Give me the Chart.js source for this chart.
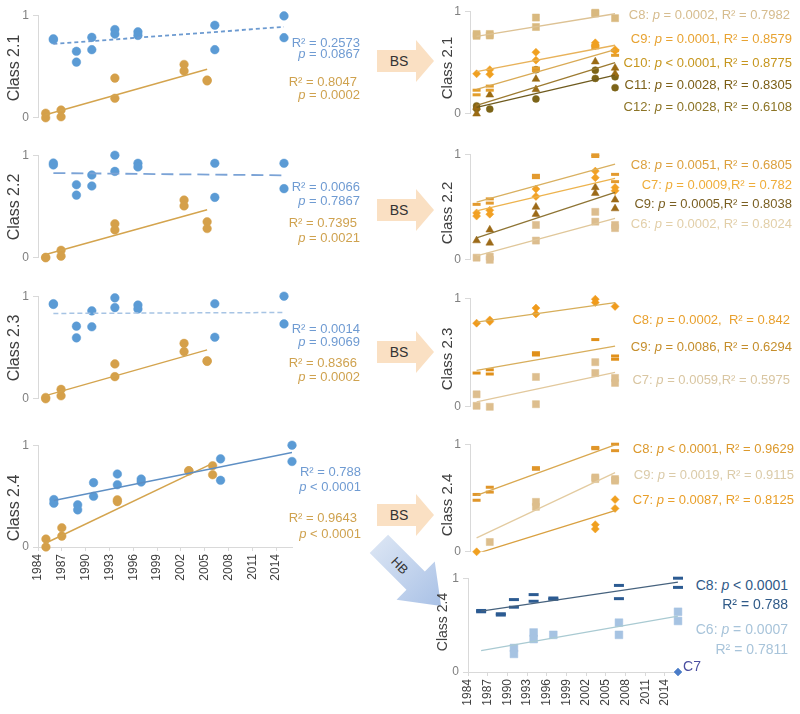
<!DOCTYPE html>
<html><head><meta charset="utf-8">
<script src="https://cdn.jsdelivr.net/npm/chart.js@4.4.1/dist/chart.umd.min.js"></script>
<style>
html,body{margin:0;padding:0;background:#fff;}
body{width:800px;height:714px;position:relative;overflow:hidden;font-family:"Liberation Sans",Arial,sans-serif;}
canvas{position:absolute;}
.t{position:absolute;white-space:nowrap;}
.yt{position:absolute;white-space:nowrap;color:#404040;transform:translate(-50%,-50%) rotate(-90deg);}
svg{position:absolute;left:0;top:0;}
</style></head><body>
<svg width="800" height="714">
 <defs><linearGradient id="hbg" x1="0" y1="0" x2="1" y2="0"><stop offset="0" stop-color="#D8E3F3"/><stop offset="1" stop-color="#A9C1E6"/></linearGradient></defs>
 <g transform="translate(0,61)"><path d="M377,-11 H416 V-21 L434,0 L416,21 V11 H377 Z" fill="#FAE0C3"/><text x="399" y="5" font-size="14" text-anchor="middle" fill="#333" font-family="Liberation Sans, Arial">BS</text></g>
 <g transform="translate(0,210)"><path d="M377,-11 H416 V-21 L434,0 L416,21 V11 H377 Z" fill="#FAE0C3"/><text x="399" y="5" font-size="14" text-anchor="middle" fill="#333" font-family="Liberation Sans, Arial">BS</text></g>
 <g transform="translate(0,352)"><path d="M377,-11 H416 V-21 L434,0 L416,21 V11 H377 Z" fill="#FAE0C3"/><text x="399" y="5" font-size="14" text-anchor="middle" fill="#333" font-family="Liberation Sans, Arial">BS</text></g>
 <g transform="translate(0,515)"><path d="M377,-11 H416 V-21 L434,0 L416,21 V11 H377 Z" fill="#FAE0C3"/><text x="399" y="5" font-size="14" text-anchor="middle" fill="#333" font-family="Liberation Sans, Arial">BS</text></g>
 <g transform="translate(410,575) rotate(45)"><path d="M-44,-13 H8 V-27 L44,0 L8,27 V13 H-44 Z" fill="url(#hbg)"/><text x="-14" y="5" font-size="13" text-anchor="middle" fill="#333" font-family="Liberation Sans, Arial">HB</text></g>
</svg>
<script>
// ---------- DATA ----------
const yearTicks = [1984,1987,1990,1993,1996,1999,2002,2005,2008,2011,2014];
const blueYears = [1986,1986,1989,1989,1991,1991,1994,1994,1997,1997,2007,2007,2016,2016];
const goldYears = [1985,1985,1987,1987,1994,1994,2003,2003,2006,2006];
const blueTrendYears = [1986,2016];
const goldTrendYears = [1985,2006];

const c21Blue = [0.77,0.76, 0.648,0.543, 0.784,0.664, 0.86,0.816, 0.838,0.803, 0.902,0.664, 0.993,0.781];
const c21Gold = [0.045,0, 0.076,0.01, 0.387,0.19, 0.52,0.457, 0.368,0.36];
const c21BlueTrend = [0.72,0.886];
const c21GoldTrend = [0.03,0.473];

const c22Blue = [0.924,0.905, 0.712,0.611, 0.807,0.70, 1.0,0.842, 0.921,0.886, 0.921,0.589, 0.921,0.674];
const c22Gold = [0.005,0, 0.073,0.016, 0.332,0.272, 0.563,0.506, 0.351,0.285];
const c22BlueTrend = [0.826,0.804];
const c22GoldTrend = [0.032,0.468];

const c23Blue = [0.927,0.92, 0.708,0.594, 0.857,0.702, 0.984,0.889, 0.914,0.876, 0.927,0.6, 1.0,0.73];
const c23Gold = [0.013,0, 0.092,0.029, 0.34,0.216, 0.54,0.46, 0.371,0.365];
const c23BlueTrend = [0.832,0.841];
const c23GoldTrend = [0.032,0.476];

const c24Blue = [0.466,0.43, 0.414,0.365, 0.632,0.498, 0.717,0.612, 0.668,0.638, 0.866,0.655, 1.0,0.84];
const c24Gold = [0.078,0, 0.189,0.107, 0.463,0.446, 0.749,0.749, 0.798,0.71];
const c24BlueTrend = [0.456,0.928];
const c24GoldTrend = [0.039,0.821];

// BS classes (right panels)
const bsYears = [1985,1985,1987,1987,1994,1994,2003,2003,2006,2006];
const bsTrendYears = [1985,2006];
const r21C8  = [0.778,0.76, 0.778,0.763, 0.938,0.846, 0.985,0.978, 0.932,null];
const r21C9  = [0.39,null, 0.43,0.385, 0.6,0.523, 0.692,0.662, 0.625,0.615];
const r21C10 = [0.23,0.185, 0.27,0.23, 0.446,0.42, 0.668,0.643, 0.615,0.57];
const r21C11 = [0.062,0, 0.185,null, 0.338,0.237, 0.508,null, 0.446,0.39];
const r21C12 = [0.077,0.052, 0.046,null, 0.43,0.145, 0.425,0.345, 0.36,0.255];
const r21C8T = [0.754,0.975], r21C9T = [0.41,0.668], r21C10T = [0.237,0.625], r21C11T = [0.083,0.498], r21C12T = [0.062,0.378];

const r22C8 = [0.525,null, 0.577,0.537, 0.8,0.778, 0.994,0.978, 0.809,0.74];
const r22C7 = [0.444,0.414, 0.469,0.432, 0.67,0.6, 0.84,0.778, 0.685,0.654];
const r22C9 = [0.182,null, 0.284,0.16, 0.5,0.432, 0.685,0.63, 0.568,0.485];
const r22C6 = [0.02,null, 0.03,0, 0.33,0.182, 0.454,0.361, 0.33,0.3];
const r22C8T = [0.546,0.907], r22C7T = [0.463,0.772], r22C9T = [0.207,0.639], r22C6T = [0.037,0.392];

const r23C8 = [0.77,null, 0.8,0.785, 0.909,0.855, 0.991,0.96, 0.924,null];
const r23C9 = [0.311,null, 0.341,0.302, 0.498,0.477, 0.619,null, 0.468,0.438];
const r23C7 = [0.115,0.009, 0,null, 0.275,0.024, 0.411,0.311, 0.266,0.22];
const r23C8T = [0.779,0.96], r23C9T = [0.335,0.559], r23C7T = [0.045,0.317];

const r24C8 = [0.533,0.479, 0.6,0.555, 0.782,0.767, 0.97,0.958, 1.0,0.94];
const r24C9 = [null,null, 0.091,null, 0.464,0.418, 0.691,0.676, 0.676,0.661];
const r24C7 = [0,null, null,null, null,null, 0.252,0.212, 0.485,0.403];
const r24C8T = [0.524,0.994], r24C9T = [0.13,0.736], r24C7T = [-0.017,0.382];

// HB class 2.4
const hbYears = [1986,1986,1989,1989,1991,1991,1994,1994,1997,1997,2007,2007,2016,2016];
const hbTrendYears = [1986,2016];
const hbC8 = [0.656,0.642, 0.621,0.607, 0.772,0.691, 0.825,0.754, 0.789,0.775, 0.923,0.782, 1.0,0.902];
const hbC6 = [null,null, null,null, 0.256,0.193, 0.421,0.351, 0.396,null, 0.526,0.396, 0.642,0.544];
const hbC7Years = [2016];
const hbC7 = [0];
const hbC8T = [0.649,0.958], hbC6T = [0.228,0.596];

// ---------- HELPERS ----------
const FONT = '"Liberation Sans", Arial, sans-serif';
Chart.defaults.font.family = FONT;
function pts(xs, ys){ return xs.map((x,i)=>({x:x, y:ys[i]})).filter(p=>p.y!==null && p.y!==undefined); }
function scat(xs, ys, style, color, r, bw){
  return {data:pts(xs,ys), pointStyle:style, pointRadius:r, pointHoverRadius:r,
    pointBackgroundColor:color, pointBorderColor:color, pointBorderWidth:(bw===undefined?0.5:bw),
    showLine:false, clip:false};
}
function trend(xs, ys, color, w, dash){
  return {data:pts(xs,ys), showLine:true, pointRadius:0, pointHoverRadius:0,
    borderColor:color, borderWidth:w, borderDash:dash||[], fill:false, tension:0};
}
function build(p){
  const c = document.createElement('canvas');
  c.width = p.width; c.height = p.height;
  c.style.left = p.left+'px'; c.style.top = p.top+'px';
  c.style.width = p.width+'px'; c.style.height = p.height+'px';
  document.body.appendChild(c);
  new Chart(c.getContext('2d'), {
    type:'scatter',
    data:{datasets:p.sets},
    options:{
      responsive:false, animation:false, devicePixelRatio:1,
      layout:{padding:{left:0, top:p.pt, right:p.pr, bottom:p.pb}},
      plugins:{legend:{display:false}, tooltip:{enabled:false}},
      events:[],
      scales:{
        x:{type:'linear', min:1984, max:2016, display:p.xShow,
          afterBuildTicks:s=>{ s.ticks = yearTicks.map(v=>({value:v})); },
          afterFit:s=>{ s.height = p.xH || 0; },
          grid:{drawOnChartArea:false, drawTicks:true, tickLength:4, color:'#D9D9D9'},
          border:{display:true, color:'#D9D9D9'},
          ticks:{autoSkip:false, maxRotation:90, minRotation:90, padding:3, color:'#404040',
            font:{size:12, family:FONT}, callback:v=>String(v)}},
        y:{type:'linear', min:0, max:1,
          afterBuildTicks:s=>{ s.ticks = [{value:0},{value:1}]; },
          afterFit:s=>{ s.width = p.yW; },
          grid:{drawOnChartArea:false, drawTicks:true, tickLength:5, color:'#D9D9D9'},
          border:{display:true, color:'#D9D9D9'},
          ticks:{padding:4, color:'#808080', font:{size:12, family:FONT}}}
      }
    }
  });
}

const BLUE='#5B9BD5', GOLD='#D5A04A', GOLDLINE='#D4A44E';
const panels = [
  {left:8, top:4, width:288, height:125, yW:30, pt:10, pr:12, pb:10, xShow:false, sets:[
    trend(blueTrendYears, c21BlueTrend, '#6C9AD0', 1.8, [4,3]),
    trend(goldTrendYears, c21GoldTrend, GOLDLINE, 1.5),
    scat(blueYears, c21Blue, 'circle', BLUE, 4.3),
    scat(goldYears, c21Gold, 'circle', GOLD, 4.3)]},
  {left:8, top:144, width:288, height:125, yW:30, pt:10, pr:12, pb:10, xShow:false, sets:[
    trend(blueTrendYears, c22BlueTrend, '#7BA3D6', 1.8, [12,6]),
    trend(goldTrendYears, c22GoldTrend, GOLDLINE, 1.5),
    scat(blueYears, c22Blue, 'circle', BLUE, 4.3),
    scat(goldYears, c22Gold, 'circle', GOLD, 4.3)]},
  {left:8, top:285, width:288, height:125, yW:30, pt:10, pr:12, pb:10, xShow:false, sets:[
    trend(blueTrendYears, c23BlueTrend, '#A7C4E4', 1.5, [5,3]),
    trend(goldTrendYears, c23GoldTrend, GOLDLINE, 1.3),
    scat(blueYears, c23Blue, 'circle', BLUE, 4.3),
    scat(goldYears, c23Gold, 'circle', GOLD, 4.3)]},
  {left:8, top:434, width:296, height:160, yW:30, pt:10, pr:12, pb:2, xShow:true, xH:45, sets:[
    trend(blueTrendYears, c24BlueTrend, '#5E8FC4', 1.5),
    trend(goldTrendYears, c24GoldTrend, GOLDLINE, 1.5),
    scat(blueYears, c24Blue, 'circle', BLUE, 4.3),
    scat(goldYears, c24Gold, 'circle', GOLD, 4.3)]},
  {left:447, top:0, width:244, height:125, yW:23, pt:7, pr:10, pb:10, xShow:false, sets:[
    trend(bsTrendYears, r21C8T, '#DDC294', 1.3),
    trend(bsTrendYears, r21C9T, '#E8B25A', 1.3),
    trend(bsTrendYears, r21C10T, '#D9AA55', 1.3),
    trend(bsTrendYears, r21C11T, '#9C7A30', 1.3),
    trend(bsTrendYears, r21C12T, '#6E5A1E', 1.3),
    scat(bsYears, r21C8, 'rect', '#D9B97F', 5),
    scat(bsYears, r21C9, 'rectRot', '#F0A020', 4),
    scat(bsYears, r21C10, 'line', '#E39E2C', 4, 3),
    scat(bsYears, r21C11, 'triangle', '#9A6B14', 4.5),
    scat(bsYears, r21C12, 'circle', '#7C6418', 3.5)]},
  {left:447, top:143, width:244, height:128, yW:23, pt:10, pr:10, pb:10, xShow:false, sets:[
    trend(bsTrendYears, r22C8T, '#D9B060', 1.3),
    trend(bsTrendYears, r22C7T, '#EDB34E', 1.3),
    trend(bsTrendYears, r22C9T, '#8E7434', 1.3),
    trend(bsTrendYears, r22C6T, '#E0C79A', 1.3),
    scat(bsYears, r22C8, 'line', '#E39A2E', 4, 3),
    scat(bsYears, r22C7, 'rectRot', '#F2A124', 4),
    scat(bsYears, r22C9, 'triangle', '#9C6A18', 4.5),
    scat(bsYears, r22C6, 'rect', '#DCBD8E', 5)]},
  {left:447, top:287, width:244, height:131, yW:23, pt:10, pr:10, pb:10, xShow:false, sets:[
    trend(bsTrendYears, r23C8T, '#D7AE5A', 1.3),
    trend(bsTrendYears, r23C9T, '#D8AE5C', 1.3),
    trend(bsTrendYears, r23C7T, '#E2C89C', 1.3),
    scat(bsYears, r23C8, 'rectRot', '#F09B1C', 4),
    scat(bsYears, r23C9, 'line', '#E0901A', 4, 3),
    scat(bsYears, r23C7, 'rect', '#DDBE8E', 5)]},
  {left:447, top:433, width:244, height:130, yW:23, pt:10, pr:10, pb:10, xShow:false, sets:[
    trend(bsTrendYears, r24C8T, '#D9A850', 1.3),
    trend(bsTrendYears, r24C9T, '#E3CBA0', 1.3),
    trend(bsTrendYears, r24C7T, '#D9A040', 1.3),
    scat(bsYears, r24C8, 'line', '#E0962A', 4, 3),
    scat(bsYears, r24C9, 'rect', '#DDBE8C', 5),
    scat(bsYears, r24C7, 'rectRot', '#F0A020', 4)]},
  {left:445, top:567, width:245, height:149, yW:23, pt:10, pr:12, pb:2, xShow:true, xH:42, sets:[
    trend(hbTrendYears, hbC8T, '#46627E', 1.3),
    trend(hbTrendYears, hbC6T, '#A9CAD2', 1.3),
    scat(hbYears, hbC8, 'line', '#2C5B92', 5, 3),
    scat(hbYears, hbC6, 'rect', '#A6C3E2', 5.5),
    scat(hbC7Years, hbC7, 'rectRot', '#4A7CC8', 4)]}
];
panels.forEach(build);

// ---------- TEXT ----------
function txt(html, right, cy, color, size){
  const d = document.createElement('div');
  d.className = 't';
  d.innerHTML = html;
  d.style.right = (800 - right) + 'px';
  d.style.top = (cy - size/2 - 1) + 'px';
  d.style.fontSize = size + 'px';
  d.style.lineHeight = size + 'px';
  d.style.color = color;
  document.body.appendChild(d);
}
function ytitle(s, cx, cy, size){
  const d = document.createElement('div');
  d.className = 'yt';
  d.textContent = s;
  d.style.left = cx + 'px'; d.style.top = cy + 'px';
  d.style.fontSize = size + 'px';
  document.body.appendChild(d);
}
const BT = '#6F9BD2', GT = '#CFA24F';
const P = '<i>p</i>';
[
 ['R² = 0.2573',360,43,BT],[P+' = 0.0867',360,54,BT],['R² = 0.8047',357,82,GT],[P+' = 0.0002',360,95,GT],
 ['R² = 0.0066',360,187,BT],[P+' = 0.7867',360,201,BT],['R² = 0.7395',357,223,GT],[P+' = 0.0021',360,238,GT],
 ['R² = 0.0014',360,329,BT],[P+' = 0.9069',360,342,BT],['R² = 0.8366',357,363,GT],[P+' = 0.0002',360,377,GT],
 ['R² = 0.788',361,472,BT],[P+' &lt; 0.0001',361,487,BT],['R² = 0.9643',357,518,GT],[P+' &lt; 0.0001',361,534,GT]
].forEach(a=>txt(a[0],a[1],a[2],a[3],13));
[
 ['C8: '+P+' = 0.0002, R² = 0.7982',790,15,'#D6BC8E'],
 ['C9: '+P+' = 0.0001, R² = 0.8579',792,39,'#E8A332'],
 ['C10: '+P+' &lt; 0.0001, R² = 0.8775',792,63,'#C6961E'],
 ['C11: '+P+' = 0.0028, R² = 0.8305',792,85,'#7B5E16'],
 ['C12: '+P+' = 0.0028, R² = 0.6108',792,107,'#8C7426'],
 ['C8: '+P+' = 0.0051, R² = 0.6805',792,165,'#DCA03E'],
 ['C7: '+P+' = 0.0009,R² = 0.782',792,185,'#EFAD3A'],
 ['C9: '+P+' = 0.0005,R² = 0.8038',792,204,'#7A5F22'],
 ['C6: '+P+' = 0.0002, R² = 0.8024',792,224,'#E2CFA9'],
 ['C8: '+P+' = 0.0002, &nbsp;R² = 0.842',790,320,'#E8A02E'],
 ['C9: '+P+' = 0.0086, R² = 0.6294',792,347,'#C58E2C'],
 ['C7: '+P+' = 0.0059,R² = 0.5975',790,380,'#D9C6A2'],
 ['C8: '+P+' &lt; 0.0001, R² = 0.9629',794,449,'#DC992C'],
 ['C9: '+P+' = 0.0019, R² = 0.9115',794,475,'#DBCBA9'],
 ['C7: '+P+' = 0.0087, R² = 0.8125',794,500,'#E99F2A']
].forEach(a=>txt(a[0],a[1],a[2],a[3],13));
[
 ['C8: '+P+' &lt; 0.0001',788,586,'#2F5A88'],['R² = 0.788',788,605,'#2F5A88'],
 ['C6: '+P+' = 0.0007',788,630,'#A8C4DA'],['R² = 0.7811',788,650,'#A8C4DA'],
 ['C7',701,667,'#4B4FA0']
].forEach(a=>txt(a[0],a[1],a[2],a[3],14));

ytitle('Class 2.1',14,68,16); ytitle('Class 2.2',14,207,16); ytitle('Class 2.3',14,348,16); ytitle('Class 2.4',14,508,16);
ytitle('Class 2.1',446,68,15); ytitle('Class 2.2',446,213,15); ytitle('Class 2.3',446,359,15); ytitle('Class 2.4',446,505,15);
ytitle('Class 2.4',442,622,14);
</script>
</body></html>
